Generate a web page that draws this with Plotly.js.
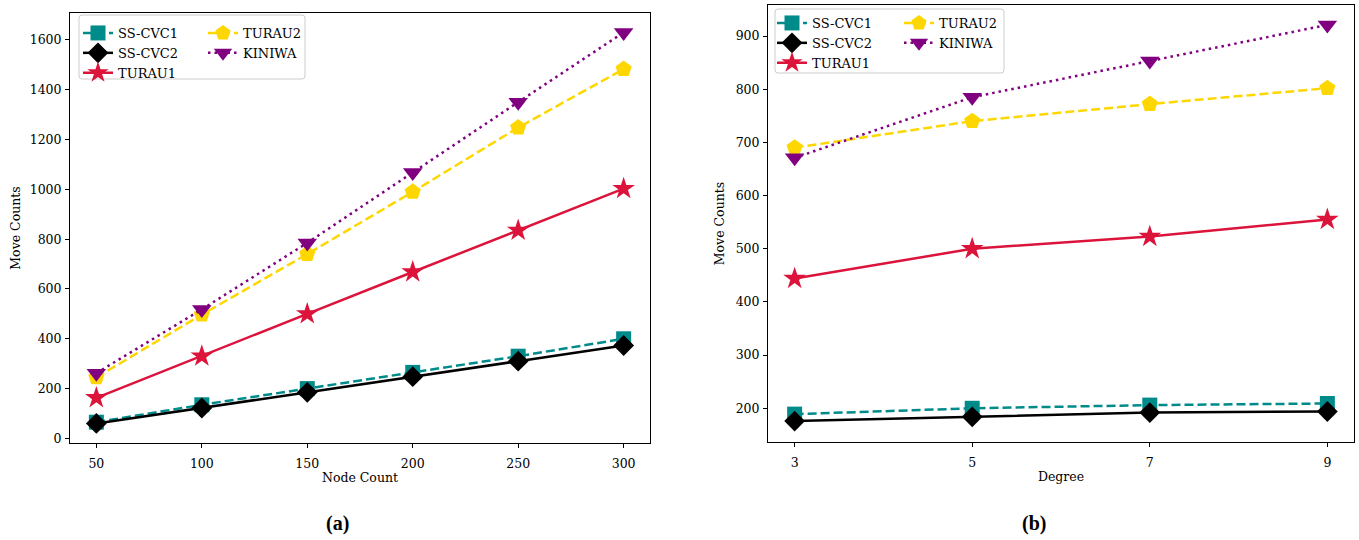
<!DOCTYPE html>
<html>
<head>
<meta charset="utf-8">
<script src="https://cdn.plot.ly/plotly-3.0.1.min.js"></script>
<style>html,body{margin:0;padding:0;background:#fff;}#chart{width:1359px;height:540px;}</style>
</head>
<body>
<div id="chart"></div>
<script>
// Panel (a): Move counts vs node count
const nodeCounts = [50, 100, 150, 200, 250, 300];
const a_sscvc1 = [65, 135, 200, 265, 330, 400];
const a_sscvc2 = [60, 122, 185, 248, 310, 373];
const a_turau1 = [163, 330, 500, 668, 835, 1003];
const a_turau2 = [245, 497, 740, 990, 1248, 1483];
const a_kiniwa = [262, 518, 785, 1068, 1350, 1630];

// Panel (b): Move counts vs degree
const degrees = [3, 5, 7, 9];
const b_sscvc1 = [189, 200, 206, 209];
const b_sscvc2 = [176, 184, 192, 194];
const b_turau1 = [444, 500, 523, 555];
const b_turau2 = [690, 740, 772, 802];
const b_kiniwa = [671, 785, 853, 921];

const seriesNames = ['SS-CVC1', 'SS-CVC2', 'TURAU1', 'TURAU2', 'KINIWA'];
const yTicksA = [0, 200, 400, 600, 800, 1000, 1200, 1400, 1600];
const yTicksB = [200, 300, 400, 500, 600, 700, 800, 900];

const W = 1359, H = 540;
const px = v => v / W;
const py = v => 1 - v / H;
const FONT = 'DejaVu Serif, serif';

const styles = [
  {color: '#008b8b', dash: '9px,4px', symbol: 'square', size: 15},
  {color: '#000000', dash: 'solid', symbol: 'diamond', size: 16},
  {color: '#dc143c', dash: 'solid', symbol: 'star', size: 17},
  {color: '#ffd700', dash: '9px,4px', symbol: 'pentagon', size: 17},
  {color: '#800080', dash: '2.5px,4px', symbol: 'triangle-down', size: 17}
];

function mk(xs, ys, i, xa, ya, legendName) {
  const s = styles[i];
  return {
    x: xs, y: ys, type: 'scatter', mode: 'lines+markers', name: seriesNames[i],
    xaxis: xa, yaxis: ya, legend: legendName,
    line: {color: s.color, width: 2.5, dash: s.dash},
    marker: {color: s.color, symbol: s.symbol, size: s.size}
  };
}

const aData = [a_sscvc1, a_sscvc2, a_turau1, a_turau2, a_kiniwa];
const bData = [b_sscvc1, b_sscvc2, b_turau1, b_turau2, b_kiniwa];
const traces = [];
aData.forEach((ys, i) => traces.push(mk(nodeCounts, ys, i, 'x', 'y', i < 3 ? 'legend' : 'legend2')));
bData.forEach((ys, i) => traces.push(mk(degrees, ys, i, 'x2', 'y2', i < 3 ? 'legend3' : 'legend4')));

const axisCommon = {
  showgrid: false, zeroline: false, showline: true, mirror: true,
  linecolor: '#000', linewidth: 1, ticks: 'outside', ticklen: 4, tickwidth: 1,
  tickcolor: '#000', tickfont: {family: FONT, size: 12.5, color: '#000'},
  automargin: false
};
const titleFont = {family: FONT, size: 12.5, color: '#000'};

const legCommon = {
  font: {family: FONT, size: 13, color: '#000'},
  bgcolor: 'rgba(0,0,0,0)', borderwidth: 0,
  xanchor: 'left', yanchor: 'top', tracegroupgap: 0, itemwidth: 30
};

const layout = {
  width: W, height: H,
  margin: {l: 0, r: 0, t: 0, b: 0},
  paper_bgcolor: '#fff', plot_bgcolor: '#fff',
  showlegend: true,
  xaxis: Object.assign({}, axisCommon, {
    domain: [px(70), px(650)], anchor: 'y', range: [37.5, 312.5],
    tickvals: nodeCounts, ticklabelstandoff: 5,
    title: {text: 'Node Count', font: titleFont, standoff: 3}
  }),
  yaxis: Object.assign({}, axisCommon, {
    domain: [py(443), py(13)], anchor: 'x', range: [-18.5, 1708],
    tickvals: yTicksA, ticklabelstandoff: 1,
    title: {text: 'Move Counts', font: titleFont, standoff: 6}
  }),
  xaxis2: Object.assign({}, axisCommon, {
    domain: [px(768), px(1354)], anchor: 'y2', range: [2.7, 9.3],
    tickvals: degrees, ticklabelstandoff: 5,
    title: {text: 'Degree', font: titleFont, standoff: 3}
  }),
  yaxis2: Object.assign({}, axisCommon, {
    domain: [py(442), py(5)], anchor: 'x2', range: [136.6, 958.4],
    tickvals: yTicksB, ticklabelstandoff: 1,
    title: {text: 'Move Counts', font: titleFont, standoff: 8}
  }),
  legend: Object.assign({}, legCommon, {x: px(78), y: py(18)}),
  legend2: Object.assign({}, legCommon, {x: px(203), y: py(18)}),
  legend3: Object.assign({}, legCommon, {x: px(772), y: py(8)}),
  legend4: Object.assign({}, legCommon, {x: px(899), y: py(8)}),
  shapes: [],
  annotations: [
    {text: '<b>(a)</b>', xref: 'paper', yref: 'paper', x: px(337), y: py(523), showarrow: false,
     xanchor: 'center', yanchor: 'middle',
     font: {family: 'Liberation Serif, serif', size: 20, color: '#000'}},
    {text: '<b>(b)</b>', xref: 'paper', yref: 'paper', x: px(1034), y: py(523), showarrow: false,
     xanchor: 'center', yanchor: 'middle',
     font: {family: 'Liberation Serif, serif', size: 20, color: '#000'}}
  ]
};

function paperPath(x0, y0, x1, y1, r) {
  const rx = r / W, ry = r / H;
  const X0 = px(x0), X1 = px(x1), Y0 = py(y0), Y1 = py(y1);
  return `M${X0 + rx},${Y0} L${X1 - rx},${Y0} Q${X1},${Y0} ${X1},${Y0 - ry} L${X1},${Y1 + ry} Q${X1},${Y1} ${X1 - rx},${Y1} L${X0 + rx},${Y1} Q${X0},${Y1} ${X0},${Y1 + ry} L${X0},${Y0 - ry} Q${X0},${Y0} ${X0 + rx},${Y0} Z`;
}
layout.shapes.push({type: 'path', xref: 'paper', yref: 'paper', layer: 'above',
  path: paperPath(79, 15, 305, 79, 3), line: {color: '#cccccc', width: 1}, fillcolor: 'rgba(255,255,255,0.8)'});
layout.shapes.push({type: 'path', xref: 'paper', yref: 'paper', layer: 'above',
  path: paperPath(775, 9, 1004, 73, 3), line: {color: '#cccccc', width: 1}, fillcolor: 'rgba(255,255,255,0.8)'});

Plotly.newPlot('chart', traces, layout, {staticPlot: true, displayModeBar: false});
</script>
</body>
</html>
